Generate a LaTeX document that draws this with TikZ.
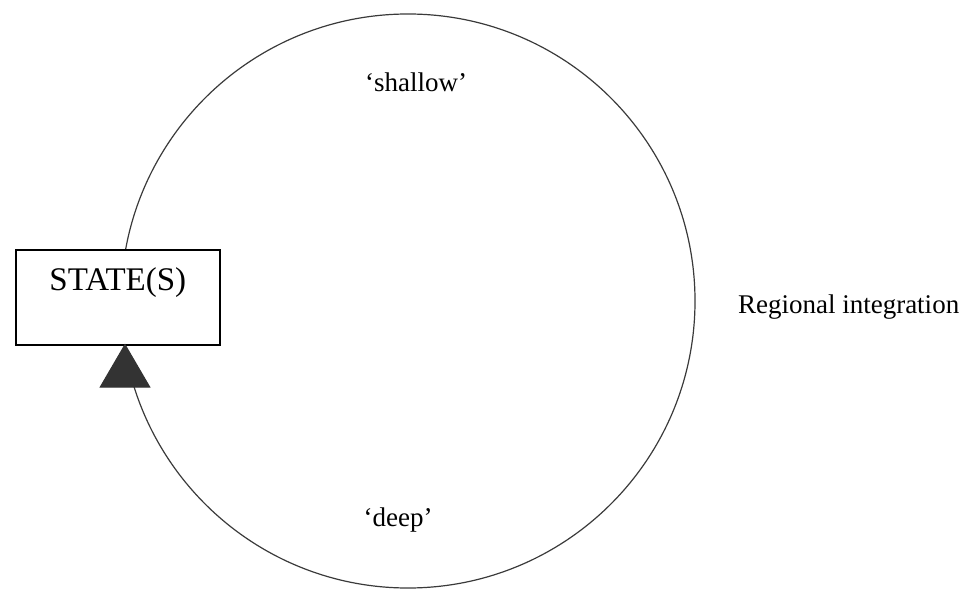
\documentclass[tikz,border=0pt]{standalone}
\usepackage{fontspec}
\setmainfont{Liberation Serif}
\usepackage{tikz}
\usetikzlibrary{arrows.meta,positioning}
\definecolor{ringgray}{HTML}{3A3A3A}
\definecolor{tipgray}{HTML}{333333}

\begin{document}
\begin{tikzpicture}[x=0.5pt,y=-0.5pt,>=Latex,
    statebox/.style={draw=black,fill=white,line width=0.8pt,minimum width=102pt,inner xsep=0pt,inner ysep=0pt,text height=20.5pt,text depth=27pt,font=\fontsize{16.5}{19}\selectfont},
    plainlabel/.style={inner sep=0pt,font=\fontsize{13.5}{16}\selectfont},
    uparrow/.style={draw=tipgray,line width=0.6pt,-{Triangle[length=22pt,width=25.5pt,fill=tipgray]}}]
    \useasboundingbox (0,0) rectangle (972,592);
    \node[circle,draw=ringgray,line width=0.6pt,minimum size=287pt,inner sep=0pt] (ring) at (408,301) {};
    \node[plainlabel] (shallow) at (416,82) {‘shallow’};
    \node[plainlabel] (deep) at (398,520) {‘deep’};
    \node[plainlabel,right=21pt of ring.east,anchor=west,yshift=-3pt] (regional) {Regional integration};
    \node[statebox,anchor=north west] (state) at (15,249) {STATE(S)};
    \coordinate (tail) at (125,384);
    \draw[uparrow] (tail) -- ([yshift=1pt]tail |- state.south);
  \end{tikzpicture}
\end{document}
